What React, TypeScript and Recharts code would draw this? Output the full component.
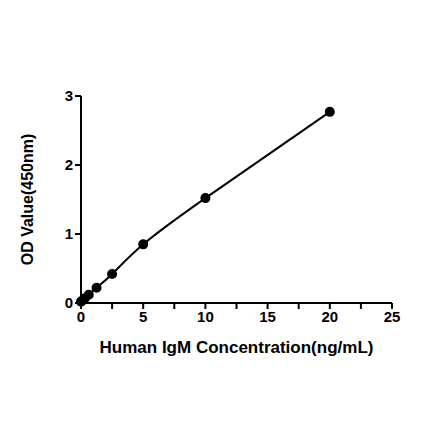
import { ComposedChart, Line, XAxis, YAxis } from 'recharts';

const concentrations = [0, 0.156, 0.3125, 0.625, 1.25, 2.5, 5, 10, 20];
const odValues = [0.02, 0.04, 0.07, 0.12, 0.22, 0.42, 0.85, 1.52, 2.77];
const xTicks = [0, 2.5, 5, 7.5, 10, 12.5, 15, 17.5, 20, 22.5, 25];
const yTicks = [0, 1, 2, 3];

const data = concentrations.map((c, i) => ({ x: c, y: odValues[i] }));

const font = 'Liberation Sans, Arial, sans-serif';

export default function App() {
  return (
    <div style={{ position: 'absolute', left: 0, top: 0, width: 440, height: 441, background: '#fff' }}>
      <ComposedChart
        width={440}
        height={441}
        data={data}
        margin={{ top: 96, right: 48, bottom: 108, left: 51 }}
      >
        <XAxis
          dataKey="x"
          type="number"
          domain={[0, 25]}
          ticks={xTicks}
          interval={0}
          tickFormatter={(v: number) => (v % 5 === 0 ? String(v) : '')}
          height={30}
          stroke="#000"
          strokeWidth={2}
          tickSize={6}
          tick={{ fill: '#000', fontFamily: font, fontWeight: 700, fontSize: 15 }}
          label={{
            value: 'Human IgM Concentration(ng/mL)',
            position: 'insideBottom',
            offset: -20,
            style: { fill: '#000', fontFamily: font, fontWeight: 700, fontSize: 17 },
          }}
        />
        <YAxis
          type="number"
          domain={[0, 3]}
          ticks={yTicks}
          width={30}
          stroke="#000"
          strokeWidth={2}
          tickSize={6}
          tick={{ fill: '#000', fontFamily: font, fontWeight: 700, fontSize: 15 }}
          label={{
            value: 'OD Value(450nm)',
            angle: -90,
            position: 'center',
            dx: -39,
            style: { fill: '#000', fontFamily: font, fontWeight: 700, fontSize: 16, textAnchor: 'middle' },
          }}
        />
        <Line
          dataKey="y"
          type="natural"
          stroke="#000"
          strokeWidth={2}
          dot={{ r: 4, fill: '#000', stroke: '#000' }}
          isAnimationActive={false}
        />
      </ComposedChart>
    </div>
  );
}
